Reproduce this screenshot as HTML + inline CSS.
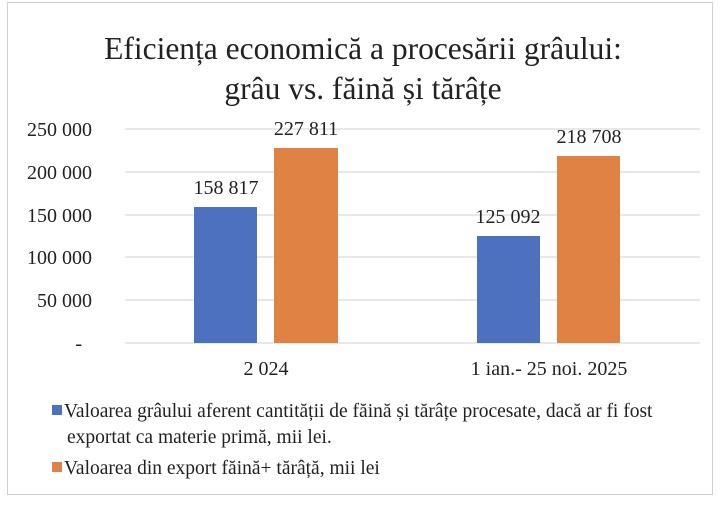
<!DOCTYPE html><html><head><style>body{margin:0;background:#fff;}svg text{font-family:"Liberation Serif",serif;fill:#222}</style></head><body>
<svg width="726" height="506" xmlns="http://www.w3.org/2000/svg">
<rect x="7.5" y="2.5" width="705" height="492" fill="#fff" stroke="#d0d0d0"/>
<text x="363" y="59" font-size="31.5" text-anchor="middle">Eficiența economică a procesării grâului:</text>
<text x="363" y="99" font-size="31.5" text-anchor="middle">grâu vs. făină și tărâțe</text>
<g stroke="#d9d9d9" stroke-width="1.2">
<line x1="125" y1="129" x2="700" y2="129"/><line x1="125" y1="172" x2="700" y2="172"/>
<line x1="125" y1="215" x2="700" y2="215"/><line x1="125" y1="257" x2="700" y2="257"/>
<line x1="125" y1="300" x2="700" y2="300"/><line x1="125" y1="343" x2="700" y2="343"/></g>
<g font-size="20" text-anchor="end">
<text x="92" y="136">250 000</text><text x="92" y="179">200 000</text><text x="92" y="222">150 000</text>
<text x="92" y="264">100 000</text><text x="92" y="307">50 000</text><text x="82" y="350">-</text></g>
<rect x="194" y="207" width="63" height="136" fill="#4e71bf"/>
<rect x="274" y="148" width="64" height="195" fill="#df8244"/>
<rect x="477" y="236" width="63" height="107" fill="#4e71bf"/>
<rect x="557" y="156" width="63" height="187" fill="#df8244"/>
<g font-size="20" text-anchor="middle">
<text x="226" y="194">158 817</text><text x="306" y="135">227 811</text>
<text x="508" y="223">125 092</text><text x="589" y="143">218 708</text></g>
<g font-size="20" text-anchor="middle"><text x="266" y="375">2 024</text><text x="549" y="375">1 ian.- 25 noi. 2025</text></g>
<rect x="52" y="405" width="10" height="10" fill="#4e71bf"/>
<rect x="52" y="462" width="10" height="10" fill="#df8244"/>
<g font-size="19.5"><text x="64" y="417">Valoarea grâului aferent cantității de făină și tărâțe procesate, dacă ar fi fost</text>
<text x="67" y="443">exportat ca materie primă, mii lei.</text>
<text x="64" y="474">Valoarea din export făină+ tărâță, mii lei</text></g>
</svg></body></html>
